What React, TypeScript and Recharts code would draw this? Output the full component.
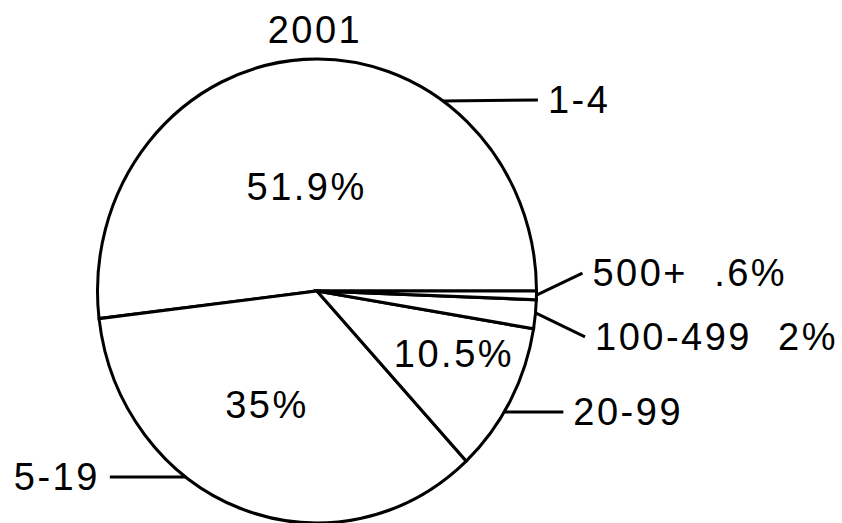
import { PieChart, Pie } from "recharts";

// 2001 – share by size class
const title = "2001";
const categories = ["1-4", "5-19", "20-99", "100-499", "500+"];
const shares = [51.9, 35, 10.5, 2, 0.6];
const shareLabels = ["51.9%", "35%", "10.5%", "2%", ".6%"];

const data = categories.map((name, i) => ({
  name,
  value: shares[i],
  pct: shareLabels[i],
}));

const W = 842;
const H = 523;
const CX = 317;
const CY = 291;
const R = 219.5;
// the original pie is a little taller than wide
const STRETCH = 1.057;
const FONT = "'Liberation Sans', Arial, Helvetica, sans-serif";
const FONT_SIZE = 38;
const SPACING = 2.5;

// percent text inside the slices: angle (deg, ccw from 3 o'clock), radius fraction
const innerSpots: ({ angle: number; r: number } | null)[] = [
  { angle: 96, r: 0.45 },
  { angle: 245, r: 0.54 },
  { angle: -23.4, r: 0.68 },
  null,
  null,
];

// leader lines: where they leave the rim and where they end, relative to it
const leaders = [
  { angle: 55, dx: 95, dy: -1, withPct: false },
  { angle: 233.3, dx: -76, dy: 0, withPct: false },
  { angle: -31.4, dx: 59, dy: 0, withPct: false },
  { angle: -5.4, dx: 49.5, dy: 24, withPct: true },
  { angle: -1, dx: 46, dy: -22, withPct: true },
];

const rad = (d: number) => (d * Math.PI) / 180;
const onPie = (cx: number, cy: number, r: number, angle: number) => ({
  x: cx + r * Math.cos(rad(angle)),
  y: cy - r * STRETCH * Math.sin(rad(angle)),
});

const textStyle = {
  fontFamily: FONT,
  fontSize: FONT_SIZE,
  letterSpacing: SPACING,
  whiteSpace: "pre" as const,
};

const renderLabel = (props: any) => {
  const { cx, cy, outerRadius, index } = props;
  const entry = data[index];
  const inner = innerSpots[index];
  const lead = leaders[index];
  const start = onPie(cx, cy, outerRadius, lead.angle);
  const end = { x: start.x + lead.dx, y: start.y + lead.dy };
  const right = lead.dx > 0;
  const text = lead.withPct ? `${entry.name}  ${entry.pct}` : entry.name;

  let innerText = null;
  if (inner) {
    const p = onPie(cx, cy, outerRadius * inner.r, inner.angle);
    innerText = (
      <text x={p.x} y={p.y + 13} textAnchor="middle" fill="#000" style={textStyle}>
        {entry.pct}
      </text>
    );
  }

  return (
    <g key={`lbl-${index}`}>
      {innerText}
      <line x1={start.x} y1={start.y} x2={end.x} y2={end.y} stroke="#000" strokeWidth={3} />
      <text
        x={right ? end.x + 10 : end.x - 10}
        y={end.y + 13}
        textAnchor={right ? "start" : "end"}
        fill="#000"
        style={textStyle}
      >
        {text}
      </text>
    </g>
  );
};

export default function App() {
  return (
    <div style={{ position: "absolute", left: 0, top: 0, width: W, height: H, background: "#fff" }}>
      <style>{`
        .pie-2001 .recharts-pie-sector {
          transform: scale(1, ${STRETCH});
          transform-origin: ${CX}px ${CY}px;
        }
      `}</style>
      <div className="pie-2001">
        <PieChart width={W} height={H} margin={{ top: 0, right: 0, bottom: 0, left: 0 }}>
          <text x={315} y={43} textAnchor="middle" fill="#000" style={textStyle}>
            {title}
          </text>
          <Pie
            data={data}
            dataKey="value"
            nameKey="name"
            cx={CX}
            cy={CY}
            outerRadius={R}
            startAngle={0}
            endAngle={360}
            fill="#fff"
            stroke="#000"
            strokeWidth={3}
            label={renderLabel}
            labelLine={false}
            isAnimationActive={false}
          />
        </PieChart>
      </div>
    </div>
  );
}
